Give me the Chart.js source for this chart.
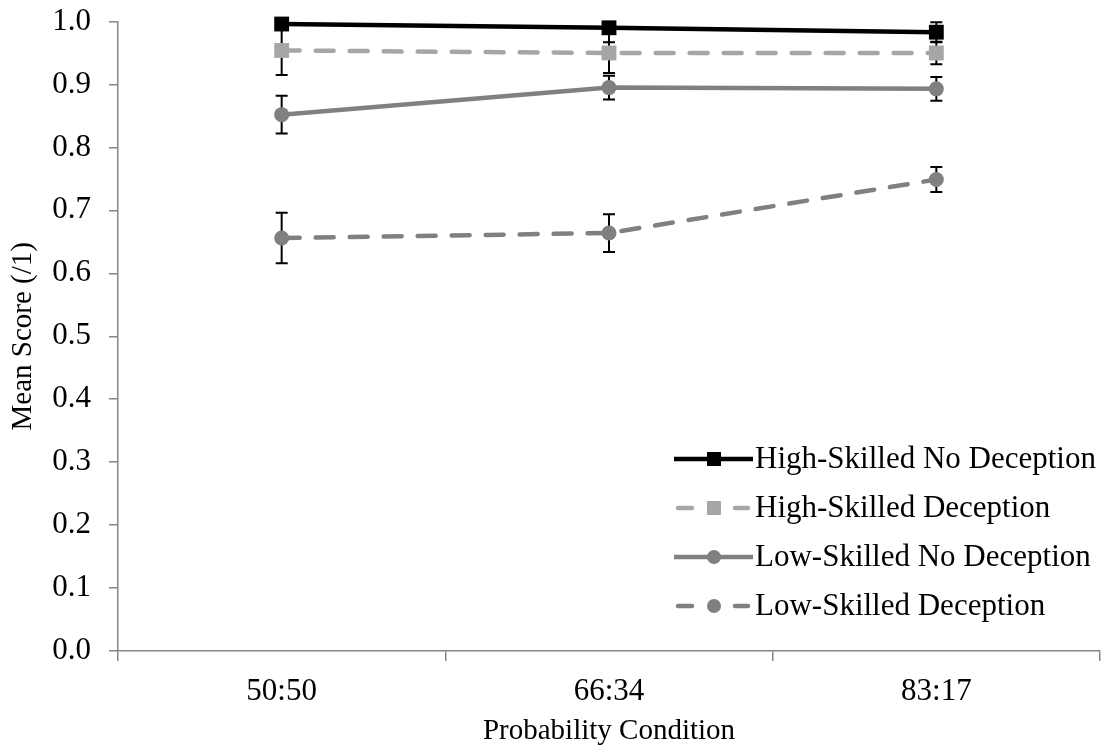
<!DOCTYPE html>
<html>
<head>
<meta charset="utf-8">
<script src="https://cdn.jsdelivr.net/npm/chart.js@4"></script>
<style>
  body { margin: 0; background: #fff; }
  #wrap { width: 1116px; height: 749px; }
</style>
</head>
<body>
<div id="wrap"><canvas id="chart"></canvas></div>
<script>
const categories = ["50:50", "66:34", "83:17"];
const seriesNames = ["High-Skilled No Deception", "High-Skilled Deception", "Low-Skilled No Deception", "Low-Skilled Deception"];

const hsNoDec = [0.996, 0.990, 0.983];
const hsDec = [0.954, 0.950, 0.950];
const lsNoDec = [0.852, 0.895, 0.893];
const lsDec = [0.656, 0.664, 0.749];

// error bar half-widths (Excel clips them at the axis max)
const hsNoDecErr = [0.005, 0.023, 0.016];
const hsDecErr = [0.039, 0.032, 0.018];
const lsNoDecErr = [0.030, 0.019, 0.019];
const lsDecErr = [0.040, 0.030, 0.020];

const errors = [hsNoDecErr, hsDecErr, lsNoDecErr, lsDecErr];

const serif = '"Liberation Serif", "Times New Roman", serif';
Chart.defaults.font.family = serif;
Chart.defaults.font.size = 31;
Chart.defaults.color = "#000";

function makeSet(label, data, color, dashed, shape) {
  return {
    label,
    data,
    borderColor: color,
    backgroundColor: color,
    borderWidth: 4.5,
    borderDash: dashed ? [18, 16] : [],
    borderCapStyle: dashed ? "round" : "butt",
    pointStyle: shape,
    pointRadius: shape === "rect" ? 10.5 : 7.5,
    pointHoverRadius: shape === "rect" ? 10.5 : 7.5,
    pointBorderWidth: 0,
    tension: 0,
    clip: false
  };
}

const errorBars = {
  id: "errorBars",
  beforeDatasetsDraw(chart) {
    const ctx = chart.ctx;
    const y = chart.scales.y;
    const a = chart.chartArea;
    ctx.save();
    ctx.beginPath();
    ctx.rect(a.left, a.top - 0.5, a.right - a.left, a.bottom - a.top + 1);
    ctx.clip();
    ctx.strokeStyle = "#000";
    ctx.lineWidth = 2;
    chart.data.datasets.forEach((ds, i) => {
      const meta = chart.getDatasetMeta(i);
      meta.data.forEach((pt, j) => {
        const v = ds.data[j], e = errors[i][j];
        const top = y.getPixelForValue(v + e);
        const bot = y.getPixelForValue(v - e);
        ctx.beginPath();
        ctx.moveTo(pt.x, top); ctx.lineTo(pt.x, bot);
        ctx.moveTo(pt.x - 6, top); ctx.lineTo(pt.x + 6, top);
        ctx.moveTo(pt.x - 6, bot); ctx.lineTo(pt.x + 6, bot);
        ctx.stroke();
      });
    });
    ctx.restore();
  }
};

const lineLegend = {
  id: "lineLegend",
  afterDraw(chart) {
    const ctx = chart.ctx;
    ctx.save();
    ctx.font = "31px " + serif;
    ctx.textBaseline = "middle";
    chart.data.datasets.forEach((ds, i) => {
      const yy = 459 + i * 49;
      ctx.strokeStyle = ds.borderColor;
      ctx.lineWidth = 4.5;
      ctx.beginPath();
      if (ds.borderDash.length) {
        ctx.lineCap = "round";
        ctx.moveTo(678, yy); ctx.lineTo(692, yy);
        ctx.moveTo(735, yy); ctx.lineTo(748, yy);
      } else {
        ctx.lineCap = "butt";
        ctx.moveTo(674, yy); ctx.lineTo(753, yy);
      }
      ctx.stroke();
      ctx.fillStyle = ds.backgroundColor;
      if (ds.pointStyle === "rect") {
        ctx.fillRect(707, yy - 7, 14, 14);
      } else {
        ctx.beginPath();
        ctx.arc(714, yy, 7, 0, Math.PI * 2);
        ctx.fill();
      }
      ctx.fillStyle = "#000";
      ctx.fillText(ds.label, 755, yy + 1);
    });
    ctx.restore();
  }
};

new Chart(document.getElementById("chart"), {
  type: "line",
  data: {
    labels: categories,
    datasets: [
      makeSet(seriesNames[0], hsNoDec, "#000000", false, "rect"),
      makeSet(seriesNames[1], hsDec, "#a6a6a6", true, "rect"),
      makeSet(seriesNames[2], lsNoDec, "#808080", false, "circle"),
      makeSet(seriesNames[3], lsDec, "#808080", true, "circle")
    ]
  },
  options: {
    responsive: true,
    maintainAspectRatio: false,
    animation: false,
    layout: { padding: { top: 21.5, right: 16, left: 0, bottom: 0 } },
    plugins: { legend: { display: false }, tooltip: { enabled: false } },
    scales: {
      x: {
        offset: true,
        grid: { offset: true, drawOnChartArea: false, color: "#868686", lineWidth: 1.5, tickLength: 10 },
        border: { color: "#868686", width: 1.5 },
        ticks: { padding: 12, color: "#000" },
        title: { display: true, text: "Probability Condition", font: { size: 29 }, padding: { top: 4, bottom: 0 } },
        afterFit(s) { s.height = 98; s.paddingLeft = 0; s.paddingRight = 0; }
      },
      y: {
        min: 0,
        max: 1,
        grid: { drawOnChartArea: false, color: "#868686", lineWidth: 1.5, tickLength: 9 },
        border: { color: "#868686", width: 1.5 },
        ticks: { stepSize: 0.1, padding: 18, color: "#000", callback: v => v.toFixed(1) },
        title: { display: true, text: "Mean Score (/1)", font: { size: 29 }, padding: { top: 6, bottom: 4 } },
        afterFit(s) { s.width = 118; s.paddingTop = 0; s.paddingBottom = 0; }
      }
    }
  },
  plugins: [errorBars, lineLegend]
});
</script>
</body>
</html>
